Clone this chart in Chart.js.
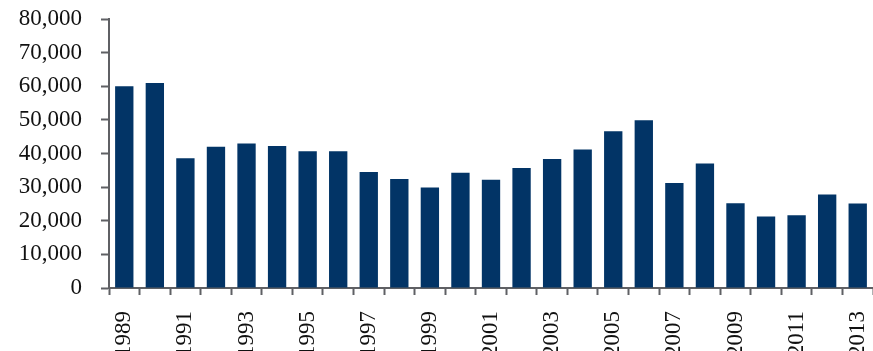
<!DOCTYPE html>
<html>
<head>
<meta charset="utf-8">
<script src="https://cdn.jsdelivr.net/npm/chart.js@4/dist/chart.umd.min.js"></script>
<style>
  html, body { margin: 0; padding: 0; background: #fff; overflow: hidden; }
  #wrap { position: relative; width: 873px; height: 351px; }
</style>
</head>
<body>
<div id="wrap"><canvas id="barChart"></canvas></div>
<script>
'use strict';

// Years on the x axis
const years = ['1989', '1990', '1991', '1992', '1993', '1994', '1995', '1996', '1997', '1998',
               '1999', '2000', '2001', '2002', '2003', '2004', '2005', '2006', '2007', '2008',
               '2009', '2010', '2011', '2012', '2013'];

// Values
const values = [60000, 61000, 38600, 42000, 43000, 42200, 40700, 40700, 34500, 32400,
                29900, 34300, 32200, 35700, 38400, 41200, 46600, 49900, 31200, 37000,
                25200, 21300, 21600, 27800, 25100];

// Y axis tick values
const yTicks = [0, 10000, 20000, 30000, 40000, 50000, 60000, 70000, 80000];

const axisColor = '#5f6064';
const fontFamily = '"Liberation Serif", "DejaVu Serif", serif';

document.addEventListener('DOMContentLoaded', function() {
    const ctx = document.getElementById('barChart').getContext('2d');

    new Chart(ctx, {
        type: 'bar',
        data: {
            labels: years,
            datasets: [{
                data: values,
                backgroundColor: '#023466',
                borderWidth: 0,
                categoryPercentage: 1.0,
                barPercentage: 0.6
            }]
        },
        options: {
            responsive: true,
            maintainAspectRatio: false,
            animation: false,
            layout: { padding: { top: 19, right: 0, left: 0, bottom: 0 } },
            plugins: {
                legend: { display: false },
                tooltip: { enabled: false }
            },
            scales: {
                x: {
                    grid: {
                        display: true,
                        offset: true,
                        drawOnChartArea: false,
                        drawTicks: true,
                        tickLength: 7,
                        tickWidth: 2,
                        tickColor: axisColor
                    },
                    border: { display: true, color: axisColor, width: 2 },
                    ticks: {
                        autoSkip: false,
                        minRotation: 90,
                        maxRotation: 90,
                        padding: 16,
                        color: '#111',
                        font: { family: fontFamily, size: 23 },
                        callback: function(value, index) {
                            return index % 2 === 0 ? years[index] : '';
                        }
                    },
                    afterFit: function(scale) {
                        // labels run off the bottom edge, and no extra side room
                        scale.height = 63;
                        scale.paddingLeft = 0;
                        scale.paddingRight = 0;
                    }
                },
                y: {
                    min: 0,
                    max: 80000,
                    afterBuildTicks: function(scale) {
                        scale.ticks = yTicks.map(function(v) { return { value: v }; });
                    },
                    grid: {
                        display: true,
                        drawOnChartArea: false,
                        drawTicks: true,
                        tickLength: 8,
                        tickWidth: 2,
                        tickColor: axisColor
                    },
                    border: { display: true, color: axisColor, width: 2 },
                    ticks: {
                        padding: 19,
                        color: '#111',
                        font: { family: fontFamily, size: 23 },
                        callback: function(value) {
                            return value.toLocaleString('en-US');
                        }
                    },
                    afterFit: function(scale) {
                        scale.width = 109;
                        scale.paddingTop = 0;
                        scale.paddingBottom = 0;
                    }
                }
            }
        }
    });
});
</script>
</body>
</html>
